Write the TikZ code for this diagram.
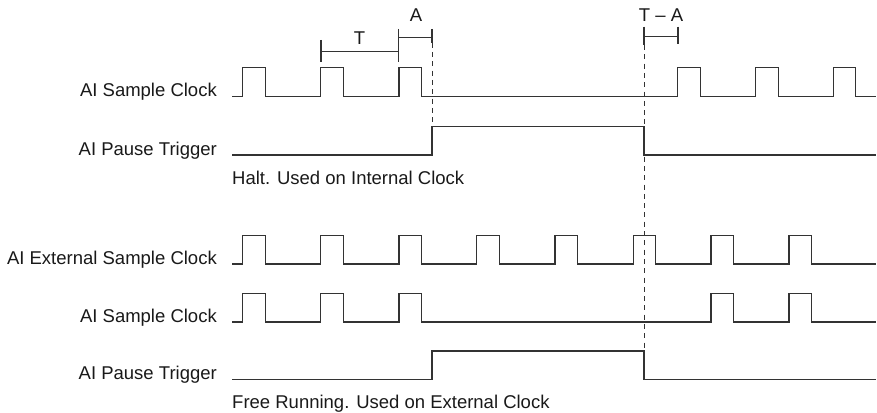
\documentclass[tikz,border=0pt]{standalone}
\usepackage{fontspec}
\setmainfont{Liberation Sans}
\usepackage{xcolor}
\tikzset{
  wave/.style={line width=1.3pt, draw=black!80, line join=miter},
  guide/.style={line width=1pt, draw=black!80, dash pattern=on 5pt off 4.3pt},
  span/.style={line width=1.2pt, draw=black!80},
  siglabel/.style={anchor=base east, inner sep=0pt, text=black!90, font=\fontsize{18.5}{22}\selectfont},
  notelabel/.style={siglabel, anchor=base west},
  spanlabel/.style={siglabel, anchor=base}
}

\begin{document}
\begin{tikzpicture}[x=1pt, y=-1pt]
  \useasboundingbox (0,0) rectangle (877,412);
  \coordinate (haltA) at (432,42.7);
  \coordinate (haltB) at (644,45);
  \node[siglabel] (clkA) at (217,96.7) {AI Sample Clock};
  \node[siglabel] (trigA) at (217,155) {AI Pause Trigger};
  \node[notelabel] (noteA) at (232,184) {Halt. Used on Internal Clock};
  \node[siglabel] (extB) at (217,264) {AI External Sample Clock};
  \node[siglabel] (clkB) at (217,322) {AI Sample Clock};
  \node[siglabel] (trigB) at (217,379.3) {AI Pause Trigger};
  \node[notelabel] (noteB) at (232,408) {Free Running. Used on External Clock};
  \draw[wave] (232,96.7) foreach \x in {242.7,320.7,399,677.7,755.7,833.3} { -- (\x,96.7) -- (\x,67.7) -- ({\x+22.5},67.7) -- ({\x+22.5},96.7) } -- (876,96.7);
  \draw[wave] (232,155) -- (432,155) -- (432,126.7) -- (644,126.7) -- (644,155) -- (876,155);
  \draw[wave] (232,264) foreach \x in {242.7,320.7,399,476.7,555,633.3,711,789} { -- (\x,264) -- (\x,235.7) -- ({\x+22.5},235.7) -- ({\x+22.5},264) } -- (876,264);
  \draw[wave] (232,322) foreach \x in {242.7,320.7,399,711,789} { -- (\x,322) -- (\x,293.3) -- ({\x+22.5},293.3) -- ({\x+22.5},322) } -- (876,322);
  \draw[wave] (232,379.3) -- (432,379.3) -- (432,351) -- (644,351) -- (644,379.3) -- (876,379.3);
  \draw[span] (321,40) -- (321,61.7) (321,51.7) -- (398.3,51.7) (398.3,29) -- (398.3,61.7);
  \draw[span] (398.3,37.3) -- (432,37.3) (432,29) -- (haltA);
  \draw[span] (644,26.7) -- (haltB) (644,36.7) -- (678,36.7) (678,26.7) -- (678,44);
  \node[spanlabel] (lblT) at (359.5,44.3) {T};
  \node[spanlabel] (lblA) at (416,21.7) {A};
  \node[spanlabel] (lblTA) at (661,21.7) {T – A};
  \draw[guide] (haltA) -- (432,155);
  \draw[guide] (haltB) -- (644,379.3);
\end{tikzpicture}
\end{document}
